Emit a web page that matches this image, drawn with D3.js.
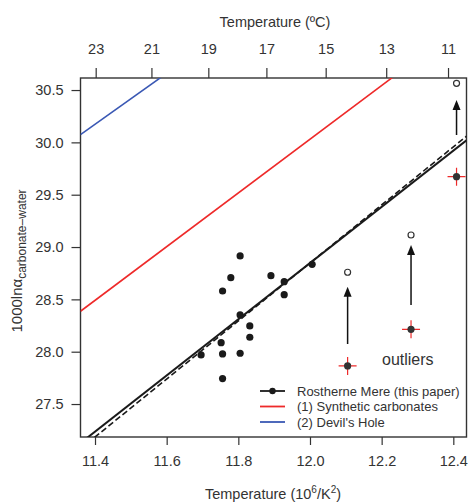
<!DOCTYPE html>
<html>
<head>
<meta charset="UTF-8">
<title>Rostherne Mere</title>
<script src="https://cdn.jsdelivr.net/npm/d3@7"></script>
<style>
  body { margin: 0; background: #fff; }
  text { font-family: "Liberation Sans", Arial, sans-serif; fill: #333; }
</style>
</head>
<body>
<svg id="chart" width="468" height="503"></svg>
<script>
// Rostherne Mere measurements (10^6/K^2 , 1000 ln alpha)
var ptX = [11.805, 11.779, 11.756, 11.891, 11.928, 11.928, 12.006, 11.805, 11.832, 11.832, 11.752, 11.696, 11.756, 11.805, 11.756];
var ptY = [28.915, 28.707, 28.580, 28.726, 28.669, 28.545, 28.835, 28.351, 28.246, 28.138, 28.086, 27.969, 27.979, 27.985, 27.743];

// outliers: measured (filled, red cross) and corrected (open)
var outX = [12.105, 12.282, 12.409];
var outY = [27.864, 28.214, 29.672];
var outOpenY = [28.759, 29.115, 30.564];
var arrowFrom = [28.074, 28.447, 30.070];
var arrowTo = [28.621, 29.020, 30.404];

// lines: y = a + b*x
var lineNames = ["Rostherne Mere (this paper)", "(1) Synthetic carbonates", "(2) Devil's Hole"];
var lineA = [-3.373, -0.762, 2.356];
var lineB = [2.685, 2.566, 2.44];
var dashA = -4.416, dashB = 2.772;

var xTicks = [11.4, 11.6, 11.8, 12.0, 12.2, 12.4];
var yTicks = [27.5, 28.0, 28.5, 29.0, 29.5, 30.0, 30.5];
var topTemps = [23, 21, 19, 17, 15, 13, 11];

var svg = d3.select("#chart");
var L = 80.5, R = 466.5, T = 78, B = 437;
var x = d3.scaleLinear().domain([11.3595, 12.4368]).range([L, R]);
var y = d3.scaleLinear().domain([27.185, 30.615]).range([B, T]);
var toX = function (c) { return 1e6 / Math.pow(c + 273.15, 2); };

svg.append("defs").append("clipPath").attr("id", "clip")
  .append("rect").attr("x", L).attr("y", T).attr("width", R - L).attr("height", B - T);

// axes
var bottomAx = svg.append("g").attr("transform", "translate(0," + B + ")")
  .call(d3.axisBottom(x).tickValues(xTicks).tickFormat(d3.format(".1f")).tickSize(8).tickPadding(11));
var leftAx = svg.append("g").attr("transform", "translate(" + L + ",0)")
  .call(d3.axisLeft(y).tickValues(yTicks).tickFormat(d3.format(".1f")).tickSize(9).tickPadding(8));
var topAx = svg.append("g").attr("transform", "translate(0," + T + ")")
  .call(d3.axisTop(x).tickValues(topTemps.map(toX)).tickFormat(function (d, i) { return topTemps[i]; }).tickSize(10).tickPadding(14));
[bottomAx, leftAx, topAx].forEach(function (g) {
  g.select(".domain").remove();
  g.selectAll("line").attr("stroke", "#333").attr("stroke-width", 1.2);
  g.selectAll("text").attr("font-size", 14.5).attr("fill", "#333")
    .attr("font-family", "Liberation Sans, Arial, sans-serif");
});

svg.append("rect").attr("x", L).attr("y", T).attr("width", R - L).attr("height", B - T)
  .attr("fill", "none").attr("stroke", "#333").attr("stroke-width", 1.4);

// titles
svg.append("text").attr("x", 275).attr("y", 27).attr("text-anchor", "middle")
  .attr("font-size", 14.5).text("Temperature (ºC)");
var bt = svg.append("text").attr("x", 273).attr("y", 499).attr("text-anchor", "middle").attr("font-size", 14.5);
bt.append("tspan").text("Temperature (10");
bt.append("tspan").attr("dy", -6).attr("font-size", 10).text("6");
bt.append("tspan").attr("dy", 6).text("/K");
bt.append("tspan").attr("dy", -6).attr("font-size", 10).text("2");
bt.append("tspan").attr("dy", 6).text(")");

var yl = svg.append("text").attr("transform", "translate(22,261) rotate(-90)")
  .attr("text-anchor", "middle").attr("font-size", 15);
yl.append("tspan").text("1000lnα");
yl.append("tspan").attr("dy", 4).attr("font-size", 12).text("carbonate–water");

var plot = svg.append("g").attr("clip-path", "url(#clip)");
var dom = x.domain();
var colors = ["#1a1a1a", "#ee2a2a", "#3a58b4"];

// dashed line
plot.append("line")
  .attr("x1", x(dom[0])).attr("y1", y(dashA + dashB * dom[0]))
  .attr("x2", x(dom[1])).attr("y2", y(dashA + dashB * dom[1]))
  .attr("stroke", "#1a1a1a").attr("stroke-width", 1.6).attr("stroke-dasharray", "6,3");

lineA.forEach(function (a, i) {
  plot.append("line")
    .attr("x1", x(dom[0])).attr("y1", y(a + lineB[i] * dom[0]))
    .attr("x2", x(dom[1])).attr("y2", y(a + lineB[i] * dom[1]))
    .attr("stroke", colors[i]).attr("stroke-width", i == 0 ? 2 : 1.6);
});

// data points
plot.selectAll(".pt").data(ptX).enter().append("circle")
  .attr("cx", function (d) { return x(d); })
  .attr("cy", function (d, i) { return y(ptY[i]); })
  .attr("r", 3.6).attr("fill", "#1a1a1a");

// outliers
outX.forEach(function (ox, i) {
  var cx = x(ox), cy = y(outY[i]);
  plot.append("line").attr("x1", cx - 9).attr("x2", cx + 9).attr("y1", cy).attr("y2", cy)
    .attr("stroke", "#ee2a2a").attr("stroke-width", 1.2);
  plot.append("line").attr("x1", cx).attr("x2", cx).attr("y1", cy - 9).attr("y2", cy + 9)
    .attr("stroke", "#ee2a2a").attr("stroke-width", 1.2);
  plot.append("circle").attr("cx", cx).attr("cy", cy).attr("r", 3.6).attr("fill", "#333");
  plot.append("circle").attr("cx", cx).attr("cy", y(outOpenY[i])).attr("r", 3)
    .attr("fill", "#fff").attr("stroke", "#333").attr("stroke-width", 1.2);
  var y0 = y(arrowFrom[i]), y1 = y(arrowTo[i]);
  plot.append("line").attr("x1", cx).attr("x2", cx).attr("y1", y0).attr("y2", y1 + 8)
    .attr("stroke", "#111").attr("stroke-width", 1.5);
  plot.append("path").attr("d", "M" + cx + "," + y1 + "L" + (cx - 4) + "," + (y1 + 10) + "L" + (cx + 4) + "," + (y1 + 10) + "Z")
    .attr("fill", "#111");
});

svg.append("text").attr("x", 382).attr("y", 365).attr("font-size", 16).attr("fill", "#222").text("outliers");

// legend
var lg = svg.append("g");
lineNames.forEach(function (n, i) {
  var ly = 391 + i * 15.5;
  lg.append("line").attr("x1", 260).attr("x2", 285).attr("y1", ly).attr("y2", ly)
    .attr("stroke", colors[i]).attr("stroke-width", 1.8);
  if (i == 0) lg.append("circle").attr("cx", 272.5).attr("cy", ly).attr("r", 3.2).attr("fill", "#1a1a1a");
  lg.append("text").attr("x", 297).attr("y", ly + 4.5).attr("font-size", 13).text(n);
});
</script>
</body>
</html>
